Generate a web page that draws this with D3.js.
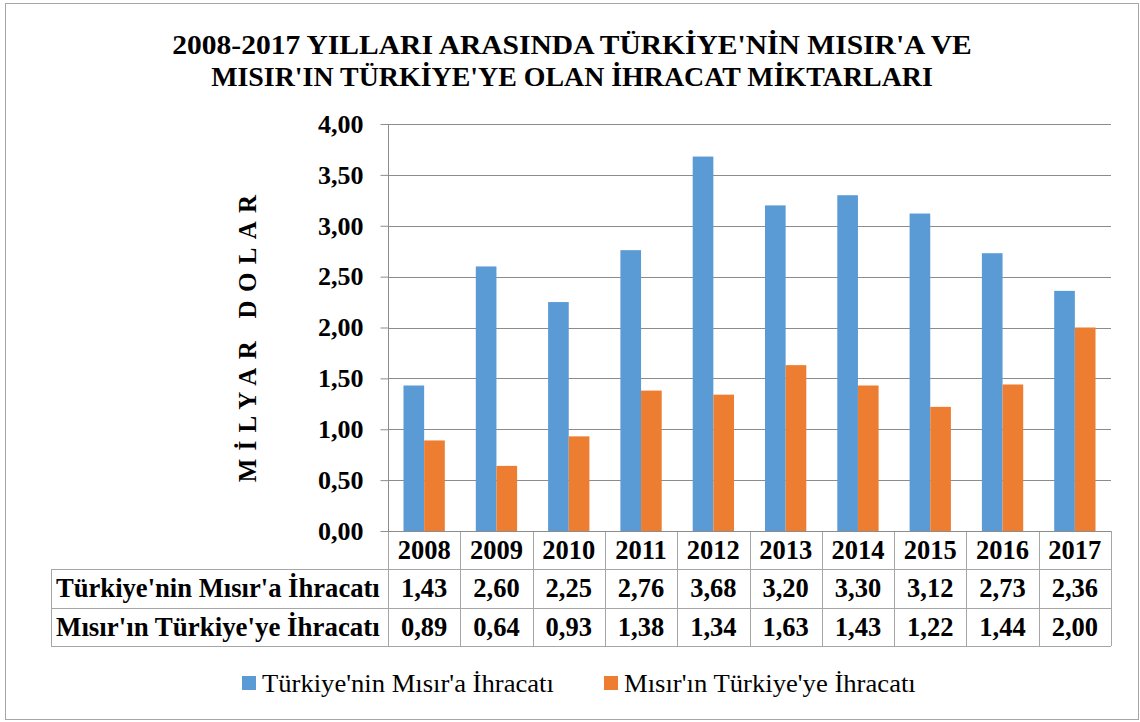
<!DOCTYPE html>
<html>
<head>
<meta charset="utf-8">
<script src="https://cdn.jsdelivr.net/npm/d3@7"></script>
<style>
  body { margin: 0; background: #fff; }
  text { font-family: "Liberation Serif", "Times New Roman", serif; fill: #000; }
</style>
</head>
<body>
<svg id="chart"></svg>
<script>
// data
var years = ["2008", "2009", "2010", "2011", "2012", "2013", "2014", "2015", "2016", "2017"];
var trToEg = [1.43, 2.60, 2.25, 2.76, 3.68, 3.20, 3.30, 3.12, 2.73, 2.36];
var egToTr = [0.89, 0.64, 0.93, 1.38, 1.34, 1.63, 1.43, 1.22, 1.44, 2.00];
var seriesNames = ["Türkiye'nin Mısır'a İhracatı", "Mısır'ın Türkiye'ye İhracatı"];
var yTicks = [0, 0.5, 1, 1.5, 2, 2.5, 3, 3.5, 4];
var titleLines = ["2008-2017 YILLARI ARASINDA TÜRKİYE'NİN MISIR'A VE",
                  "MISIR'IN TÜRKİYE'YE OLAN İHRACAT MİKTARLARI"];

var width = 1140, height = 722;
var colors = ["#5b9bd5", "#ed7d31"];
var plotLeft = 388, plotRight = 1111, plotTop = 124, plotBottom = 531;
var rowH = [38, 39, 38];   // header, row 1, row 2
var tableLeft = 51;
var tableFont = '26.5px';

var svg = d3.select('#chart')
  .attr('width', width)
  .attr('height', height);

svg.append('rect')
  .attr('x', 5.5).attr('y', 3.5)
  .attr('width', 1133).attr('height', 716)
  .attr('fill', '#fff')
  .attr('stroke', '#a6a6a6');

// squeeze text horizontally to a target width
function fitWidth(sel, w) {
  sel.each(function() {
    var t = d3.select(this);
    var len = this.getComputedTextLength();
    var x = +t.attr('x'), y = +t.attr('y');
    var s = w / len;
    t.attr('transform', 'translate(' + x + ',' + y + ') scale(' + s + ',1) translate(' + (-x) + ',' + (-y) + ')');
  });
}

// title
svg.selectAll('text.title')
  .data(titleLines)
  .enter()
  .append('text')
  .attr('class', 'title')
  .attr('x', 572)
  .attr('y', function(d, i) { return 54 + i * 32; })
  .attr('text-anchor', 'middle')
  .style('font-size', '28px')
  .style('font-weight', 'bold')
  .text(function(d) { return d; })
  .call(function(sel) {
    sel.each(function(d, i) {
      fitWidth(d3.select(this), i == 0 ? 800 : 722);
    });
  });

var y = d3.scaleLinear().domain([0, 4]).range([plotBottom, plotTop]);
var x = d3.scaleBand().domain(years).range([plotLeft, plotRight]);
var xs = d3.scaleBand().domain([0, 1]).range([0, x.bandwidth()]).paddingInner(0).paddingOuter(0.75);

// gridlines
svg.append('g')
  .selectAll('line')
  .data(yTicks.filter(function(d) { return d > 0; }))
  .enter()
  .append('line')
  .attr('x1', plotLeft).attr('x2', plotRight)
  .attr('y1', function(d) { return Math.round(y(d)) + 0.5; })
  .attr('y2', function(d) { return Math.round(y(d)) + 0.5; })
  .attr('stroke', '#8c8c8c');

// bars
var series = [trToEg, egToTr];
series.forEach(function(vals, s) {
  svg.append('g')
    .selectAll('rect')
    .data(vals)
    .enter()
    .append('rect')
    .attr('x', function(d, i) { return x(years[i]) + xs(s); })
    .attr('width', xs.bandwidth())
    .attr('y', function(d) { return y(d); })
    .attr('height', function(d) { return y(0) - y(d); })
    .attr('fill', colors[s]);
});

// y axis
var yAxis = d3.axisLeft(y)
  .tickValues(yTicks)
  .tickSize(8)
  .tickPadding(17)
  .tickFormat(function(d) { return d3.format('.2f')(d).replace('.', ','); });

var ga = svg.append('g')
  .attr('transform', 'translate(' + (plotLeft + 0.5) + ',0)')
  .call(yAxis);
ga.select('.domain').attr('stroke', '#8c8c8c').attr('d', 'M0,' + plotTop + 'V' + plotBottom);
ga.selectAll('.tick line').attr('stroke', '#8c8c8c');
ga.selectAll('.tick text')
  .style('font-family', '"Liberation Serif", serif')
  .style('font-size', '26px')
  .style('font-weight', 'bold')
  .attr('fill', '#000');

// y axis title
svg.append('text')
  .attr('transform', 'translate(256,' + ((plotTop + plotBottom) / 2 + 7) + ') rotate(-90)')
  .attr('text-anchor', 'middle')
  .style('font-size', '25px')
  .style('font-weight', 'bold')
  .style('letter-spacing', '8.3px')
  .text('MİLYAR DOLAR');

// data table
var tbl = svg.append('g');
var lineColor = '#a6a6a6';
var r1 = plotBottom + rowH[0], r2 = r1 + rowH[1], r3 = r2 + rowH[2];

[r1, r2, r3].forEach(function(yy) {
  tbl.append('line')
    .attr('x1', tableLeft).attr('x2', plotRight)
    .attr('y1', yy + 0.5).attr('y2', yy + 0.5)
    .attr('stroke', lineColor);
});
tbl.append('line')
  .attr('x1', tableLeft + 0.5).attr('x2', tableLeft + 0.5)
  .attr('y1', r1).attr('y2', r3)
  .attr('stroke', lineColor);
tbl.selectAll('line.col')
  .data(years.concat(['end']))
  .enter()
  .append('line')
  .attr('x1', function(d) { return Math.round(d == 'end' ? plotRight : x(d)) + 0.5; })
  .attr('x2', function(d) { return Math.round(d == 'end' ? plotRight : x(d)) + 0.5; })
  .attr('y1', plotBottom).attr('y2', r3)
  .attr('stroke', lineColor);
// zero line
svg.append('line')
  .attr('x1', plotLeft).attr('x2', plotRight)
  .attr('y1', plotBottom + 0.5).attr('y2', plotBottom + 0.5)
  .attr('stroke', '#8c8c8c');

function cellText(vals, yy) {
  tbl.append('g')
    .selectAll('text')
    .data(vals)
    .enter()
    .append('text')
    .attr('x', function(d, i) { return x(years[i]) + x.bandwidth() / 2; })
    .attr('y', yy)
    .attr('text-anchor', 'middle')
    .style('font-size', tableFont)
    .style('font-weight', 'bold')
    .text(function(d) { return typeof d == 'number' ? d3.format('.2f')(d).replace('.', ',') : d; });
}
cellText(years, plotBottom + 28);
cellText(trToEg, r1 + 28);
cellText(egToTr, r2 + 28);

tbl.selectAll('text.rowlab')
  .data(seriesNames)
  .enter()
  .append('text')
  .attr('class', 'rowlab')
  .attr('x', 56)
  .attr('y', function(d, i) { return (i == 0 ? r1 : r2) + 28; })
  .style('font-size', tableFont)
  .style('font-weight', 'bold')
  .text(function(d) { return d; })
  .call(function(sel) { fitWidth(sel, 324); });

// legend
var legX = [242, 604];
var lg = svg.append('g');
seriesNames.forEach(function(name, i) {
  lg.append('rect')
    .attr('x', legX[i]).attr('y', 676)
    .attr('width', 14).attr('height', 14)
    .attr('fill', colors[i]);
  lg.append('text')
    .attr('x', legX[i] + 20)
    .attr('y', 692)
    .style('font-size', '25px')
    .text(name)
    .call(function(sel) { fitWidth(sel, 292); });
});
</script>
</body>
</html>
